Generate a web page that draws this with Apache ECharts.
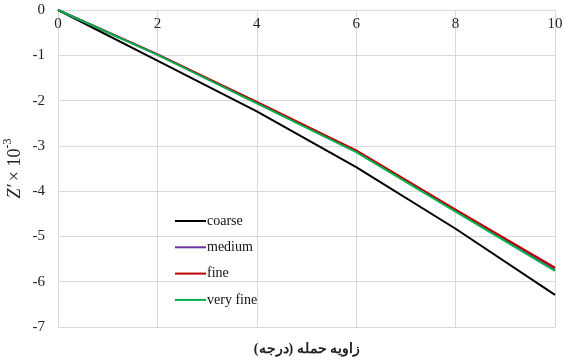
<!DOCTYPE html>
<html>
<head>
<meta charset="utf-8">
<script src="https://cdn.jsdelivr.net/npm/echarts@6/dist/echarts.min.js"></script>
<style>
  html, body { margin: 0; padding: 0; background: #fff; }
  #chart { width: 566px; height: 363px; }
</style>
</head>
<body>
<div id="chart"></div>
<script>
// Angle of attack (degrees) and non-dimensional Z' (×10^-3) for each mesh
const angles = [0, 2, 4, 6, 8, 10];
const coarse = [0, -1.12, -2.24, -3.47, -4.83, -6.29];
const medium = [0, -0.98, -2.04, -3.11, -4.42, -5.72];
const fine = [0, -0.98, -2.03, -3.10, -4.41, -5.69];
const veryFine = [0, -0.99, -2.06, -3.14, -4.45, -5.76];
const seriesNames = ['coarse', 'medium', 'fine', 'very fine'];
const xTicks = [0, 2, 4, 6, 8, 10];
const yTicks = [0, -1, -2, -3, -4, -5, -6, -7];

const serif = '"Liberation Serif", "DejaVu Serif", serif';
const gridColor = '#d9d9d9';
const colors = ['#000000', '#7030a0', '#c00000', '#00b050'];
const values = [coarse, medium, fine, veryFine];

const chart = echarts.init(document.getElementById('chart'));
chart.setOption({
  animation: false,
  backgroundColor: '#fff',
  grid: { left: 58, top: 10, right: 11, bottom: 36, containLabel: false, outerBoundsMode: 'none' },
  xAxis: {
    type: 'value',
    position: 'top',
    min: xTicks[0],
    max: xTicks[xTicks.length - 1],
    interval: 2,
    axisLine: { show: true, lineStyle: { color: gridColor, width: 1 } },
    axisTick: { show: false },
    axisLabel: {
      inside: true, margin: 7,
      color: '#222', fontFamily: serif, fontSize: 15
    },
    splitLine: { show: true, lineStyle: { color: gridColor, width: 1 } }
  },
  yAxis: {
    type: 'value',
    min: yTicks[yTicks.length - 1],
    max: yTicks[0],
    interval: 1,
    axisLine: { show: true, lineStyle: { color: gridColor, width: 1 } },
    axisTick: { show: false },
    axisLabel: { margin: 13, color: '#222', fontFamily: serif, fontSize: 15 },
    splitLine: { show: true, lineStyle: { color: gridColor, width: 1 } },
    name: '{i|Z′} {n|× 10}{s|-3}',
    nameLocation: 'middle',
    nameGap: 34,
    nameMoveOverlap: false,
    nameRotate: 90,
    nameTextStyle: {
      rich: {
        i: { fontFamily: serif, fontStyle: 'italic', fontSize: 18, color: '#222', lineHeight: 22, verticalAlign: 'bottom' },
        n: { fontFamily: serif, fontSize: 18, color: '#222', lineHeight: 22, verticalAlign: 'bottom' },
        s: { fontFamily: serif, fontSize: 12, color: '#222', lineHeight: 22, verticalAlign: 'top' }
      }
    }
  },
  legend: {
    orient: 'vertical',
    left: 170,
    top: 209,
    itemWidth: 31,
    itemHeight: 2,
    itemGap: 12.3,
    icon: 'rect',
    textStyle: { fontFamily: serif, fontSize: 14, color: '#111', padding: [0, 0, 0, -4] },
    data: seriesNames
  },
  series: seriesNames.map((name, k) => ({
    name: name,
    type: 'line',
    data: angles.map((a, i) => [a, values[k][i]]),
    showSymbol: false,
    symbol: 'none',
    lineStyle: { color: colors[k], width: 2 },
    itemStyle: { color: colors[k] },
    z: 2 + k
  })),
  graphic: [{
    type: 'text',
    x: 307,
    y: 349,
    style: {
      text: 'زاویه حمله (درجه)',
      fontFamily: serif,
      fontSize: 14,
      fontWeight: 'bold',
      fill: '#222',
      align: 'center',
      verticalAlign: 'middle'
    }
  }]
});
</script>
</body>
</html>
